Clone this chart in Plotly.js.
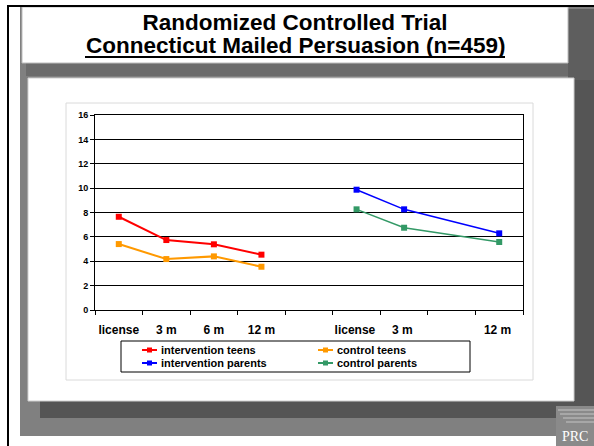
<!DOCTYPE html>
<html><head><meta charset="utf-8">
<script src="https://cdn.plot.ly/plotly-3.0.1.min.js"></script>
<style>html,body{margin:0;padding:0;background:#fff;}#chart{width:594px;height:446px;}</style>
</head><body><div id="chart"></div>
<script>
const categories = ['license', '3 m', '6 m', '12 m', ' ', 'license ', '3 m ', '  ', '12 m '];
const interventionTeens   = [7.65, 5.74, 5.39, 4.54, null, null, null, null, null];
const controlTeens        = [5.41, 4.18, 4.40, 3.55, null, null, null, null, null];
const interventionParents = [null, null, null, null, null, 9.87, 8.26, null, 6.29];
const controlParents      = [null, null, null, null, null, 8.26, 6.75, null, 5.58];
const yTickVals = [0, 2, 4, 6, 8, 10, 12, 14, 16];
const seriesNames = ['intervention teens', 'control teens', 'intervention parents', 'control parents'];
const seriesColors = ['#ff0000', '#ff9900', '#0000ff', '#339966'];

const FONT = '"Liberation Sans", Arial, sans-serif';
const L = 95, R = 523, T = 115, B = 310;
const W = R - L, H = B - T;
const px = x => (x - L) / W;
const py = y => (B - y) / H;

function rect(x0, y0, x1, y1, fill, lineColor, lw, layer) {
  return {type: 'rect', xref: 'paper', yref: 'paper', layer: layer || 'below',
    x0: px(x0), x1: px(x1), y0: py(y1), y1: py(y0),
    fillcolor: fill, line: {color: lineColor || fill, width: lineColor ? (lw || 1) : 0}};
}
function hline(x0, x1, y, color, w, layer) {
  return {type: 'line', xref: 'paper', yref: 'paper', layer: layer || 'below',
    x0: px(x0), x1: px(x1), y0: py(y), y1: py(y), line: {color: color, width: w}};
}
function vline(x, y0, y1, color, w) {
  return {type: 'line', xref: 'paper', yref: 'paper', layer: 'below',
    x0: px(x), x1: px(x), y0: py(y0), y1: py(y1), line: {color: color, width: w}};
}

const shapes = [
  rect(20, 7, 594, 436, '#808080'),
  rect(568, 9, 594, 80, '#5e5e5e'),
  rect(26, 63, 568, 76, '#6c6c6c'),
  rect(574, 80, 594, 418, '#555555'),
  rect(40, 401, 594, 418, '#555555'),
  rect(28, 78, 574, 401, '#ffffff', '#cfcfcf'),
  rect(22, 7, 568, 63, '#ffffff', '#bdbdbd'),
  rect(66, 103, 533, 380, '#ffffff', '#dadada'),
  hline(7, 594, 6, '#000000', 2),
  vline(8, 6, 446, '#000000', 2),
  hline(85, 505, 57, '#000000', 2, 'above'),
  rect(556, 406, 594, 446, '#8a8a8a'),
  hline(558, 594, 410, '#c4c4c4', 1),
  hline(560, 594, 414, '#c4c4c4', 1),
  hline(563, 594, 418, '#c4c4c4', 1),
  hline(566, 594, 422, '#c4c4c4', 1),
  rect(121, 341, 470, 372, '#ffffff', '#000000', 1, 'above')
];

const annotations = [
  {text: 'Connecticut Mailed Persuasion (n=459)', xref: 'paper', yref: 'paper',
    x: px(295), y: py(46), xanchor: 'center', yanchor: 'middle', showarrow: false,
    font: {family: FONT, size: 22.5, weight: 'bold', color: '#000'}},
  {text: 'PRC', xref: 'paper', yref: 'paper', x: px(575), y: py(436), xanchor: 'center', yanchor: 'middle',
    showarrow: false, font: {family: '"Liberation Serif", "DejaVu Serif", serif', size: 14, color: '#ffffff'}}
];

// legend built from series names & colours
const legendCols = [142, 318];
const legendRows = [350, 363];
seriesNames.forEach((name, i) => {
  const cx = legendCols[i % 2], cy = legendRows[Math.floor(i / 2)];
  shapes.push(hline(cx, cx + 15, cy, seriesColors[i], 2, 'above'));
  shapes.push(rect(cx + 5, cy - 2.5, cx + 10, cy + 2.5, seriesColors[i], null, 0, 'above'));
  annotations.push({text: name, xref: 'paper', yref: 'paper', x: px(cx + 18), y: py(cy),
    xanchor: 'left', yanchor: 'middle', showarrow: false, borderpad: 0,
    font: {family: FONT, size: 11, weight: 'bold', color: '#000'}});
});

function series(y, i, lw) {
  return {x: categories, y: y, name: seriesNames[i], type: 'scatter', mode: 'lines+markers',
    connectgaps: true, line: {color: seriesColors[i], width: lw},
    marker: {symbol: 'square', size: 6, color: seriesColors[i]}, hoverinfo: 'skip'};
}

const data = [
  series(interventionTeens, 0, 2),
  series(controlTeens, 1, 2),
  series(interventionParents, 2, 1.5),
  series(controlParents, 3, 1.5)
];

const layout = {
  width: 594, height: 446,
  margin: {l: L, r: 594 - R, t: T, b: 446 - B, pad: 0},
  paper_bgcolor: '#ffffff', plot_bgcolor: 'rgba(0,0,0,0)',
  font: {family: FONT, color: '#000'},
  title: {text: 'Randomized Controlled Trial', x: 295 / 594, y: 1 - 22 / 446,
    xanchor: 'center', yanchor: 'middle', font: {family: FONT, size: 22.5, weight: 'bold', color: '#000'}},
  xaxis: {type: 'category', categoryorder: 'array', categoryarray: categories,
    range: [-0.5, 8.5], tickson: 'boundaries', ticks: 'outside', ticklen: 4, tickcolor: '#000',
    tickangle: 0, automargin: false,
    showline: true, linecolor: '#000', linewidth: 1, mirror: true, showgrid: false, zeroline: false,
    ticklabelstandoff: 9, tickfont: {family: FONT, size: 12, weight: 'bold', color: '#000'}, fixedrange: true},
  yaxis: {range: [0, 16], tickvals: yTickVals, ticks: 'outside', ticklen: 4, tickcolor: '#000',
    automargin: false,
    showline: true, linecolor: '#000', linewidth: 1, mirror: true, showgrid: true, gridcolor: '#000', gridwidth: 1,
    zeroline: false, tickfont: {family: FONT, size: 9, weight: 'bold', color: '#000'}, fixedrange: true},
  shapes: shapes,
  annotations: annotations,
  showlegend: false
};

Plotly.newPlot('chart', data, layout, {displayModeBar: false, staticPlot: true});
</script></body></html>
